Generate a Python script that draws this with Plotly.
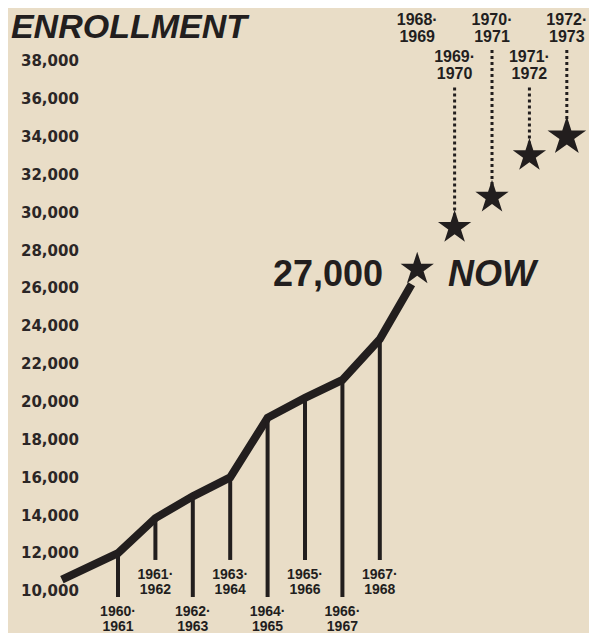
import plotly.graph_objects as go

# ---------------- data ----------------
# x position: first year of the academic year (1960 -> "1960-1961")
hist_years = [1960, 1961, 1962, 1963, 1964, 1965, 1966, 1967]
hist_values = [12000, 13850, 15000, 16000, 19150, 20200, 21150, 23300]
hist_top = ["1960·", "1961·", "1962·", "1963·", "1964·", "1965·", "1966·", "1967·"]
hist_bottom = ["1961", "1962", "1963", "1964", "1965", "1966", "1967", "1968"]

line_start_year = 1958.5
line_start_value = 10600
line_end_year = 1967.85
line_end_value = 26200

now_year = 1968
now_value = 27000
now_label = "27,000"

proj_years = [1968, 1969, 1970, 1971, 1972]
proj_values = [None, 29200, 30800, 33000, 34000]
proj_top = ["1968·", "1969·", "1970·", "1971·", "1972·"]
proj_bottom = ["1969", "1970", "1971", "1972", "1973"]

y_ticks = list(range(10000, 38001, 2000))
y_ticktext = ["{:,}".format(v) for v in y_ticks]

title = "ENROLLMENT"

# ---------------- style / layout constants ----------------
INK = "#221e1e"
PAPER = "#e9ddc7"
# the page body adds an 8px offset, so the figure is 8px smaller
W, H = 589, 625
X_RANGE = [1957.059, 1972.807]
Y_RANGE = [7781, 40797]

STEM_LONG_END = 9683
STEM_SHORT_END = 11640
LBL_LONG = (8860, 8090)
LBL_SHORT = (10800, 10030)
PROJ_LBL_HIGH = (40110, 39190)
PROJ_LBL_LOW = (38150, 37260)
DOT_TOP_HIGH = 38580
DOT_TOP_LOW = 36600

fig = go.Figure()

# main enrollment line
fig.add_trace(go.Scatter(
    x=[line_start_year] + hist_years + [line_end_year],
    y=[line_start_value] + hist_values + [line_end_value],
    mode="lines", line=dict(color=INK, width=8), hoverinfo="skip"))

# stems
sx, sy = [], []
for i, (yr, v) in enumerate(zip(hist_years, hist_values)):
    end = STEM_LONG_END if i % 2 == 0 else STEM_SHORT_END
    sx += [yr, yr, None]
    sy += [v, end, None]
fig.add_trace(go.Scatter(x=sx, y=sy, mode="lines",
                         line=dict(color=INK, width=4), hoverinfo="skip"))

# historic year labels
lx, ly, lt = [], [], []
for i, yr in enumerate(hist_years):
    pos = LBL_LONG if i % 2 == 0 else LBL_SHORT
    lx += [yr, yr]
    ly += [pos[0], pos[1]]
    lt += [hist_top[i], hist_bottom[i]]
lblfont = dict(family="Liberation Sans", size=14, color=INK, weight="bold")
fig.add_trace(go.Scatter(x=lx, y=ly, text=lt,
                         mode="text", textposition="middle center",
                         textfont=lblfont, hoverinfo="skip"))

# projection dotted lines
dx, dy = [], []
for i, (yr, v) in enumerate(zip(proj_years, proj_values)):
    if v is None:
        continue
    top = DOT_TOP_HIGH if i % 2 == 0 else DOT_TOP_LOW
    dx += [yr, yr, None]
    dy += [top, v, None]
fig.add_trace(go.Scatter(x=dx, y=dy, mode="lines",
                         line=dict(color=INK, width=3, dash="dot"),
                         hoverinfo="skip"))

# projection labels
px1, py1, pt1 = [], [], []
for i, yr in enumerate(proj_years):
    pos = PROJ_LBL_HIGH if i % 2 == 0 else PROJ_LBL_LOW
    px1 += [yr, yr]
    py1 += [pos[0], pos[1]]
    pt1 += [proj_top[i], proj_bottom[i]]
projfont = dict(family="Liberation Sans", size=16, color=INK, weight="bold")
fig.add_trace(go.Scatter(x=px1, y=py1, text=pt1, mode="text",
                         textposition="middle center", textfont=projfont,
                         hoverinfo="skip"))

# stars
star_x = [yr for yr, v in zip(proj_years, proj_values) if v is not None]
star_y = [v for v in proj_values if v is not None]
star_sizes = [25, 25, 25, 29]
fig.add_trace(go.Scatter(x=star_x, y=star_y, mode="markers",
                         marker=dict(symbol="star", size=star_sizes, color=INK,
                                     opacity=1, line=dict(width=0)),
                         hoverinfo="skip"))
fig.add_trace(go.Scatter(x=[now_year], y=[now_value], mode="markers",
                         marker=dict(symbol="star", size=25, color=INK,
                                     opacity=1, line=dict(width=0)),
                         hoverinfo="skip"))

fig.add_annotation(x=now_year, y=now_value, text=now_label, showarrow=False,
                   xanchor="right", yanchor="middle", xshift=-32, yshift=-4,
                   font=dict(family="Liberation Sans", size=36, color=INK,
                             weight="bold"))
fig.add_annotation(x=now_year, y=now_value, text="<i>NOW</i>", showarrow=False,
                   xanchor="left", yanchor="middle", xshift=29, yshift=-4,
                   font=dict(family="Liberation Sans", size=36, color=INK,
                             weight="bold"))

fig.update_layout(
    width=W, height=H,
    margin=dict(l=0, r=0, t=0, b=0),
    paper_bgcolor=PAPER, plot_bgcolor=PAPER,
    showlegend=False,
    title=dict(text="<i>" + title + "</i>", x=0.005, xanchor="left",
               xref="container", yref="container", y=1.0, yanchor="top",
               font=dict(family="Liberation Sans", size=34, color=INK,
                         weight="bold"), pad=dict(t=6, l=0)),
    xaxis=dict(range=X_RANGE, visible=False, fixedrange=True),
    yaxis=dict(range=Y_RANGE, tickvals=y_ticks, ticktext=y_ticktext,
               ticklabelposition="inside", ticklabelstandoff=10,
               showgrid=False, zeroline=False, showline=False, ticks="",
               tickfont=dict(family="DejaVu Sans", size=15, color="#2b2626",
                             weight="bold"),
               fixedrange=True),
)

fig.write_html("out.html")
